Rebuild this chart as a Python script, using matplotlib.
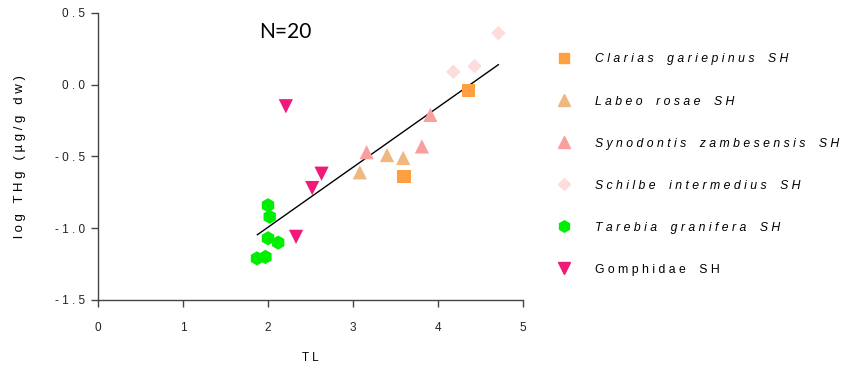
import matplotlib
matplotlib.use('Agg')
import matplotlib.pyplot as plt
from matplotlib.lines import Line2D

# data
clarias_tl = [4.36, 3.60]
clarias_thg = [-0.04, -0.64]
labeo_tl = [3.08, 3.40, 3.59]
labeo_thg = [-0.61, -0.49, -0.51]
syno_tl = [3.16, 3.81, 3.91]
syno_thg = [-0.47, -0.43, -0.21]
schilbe_tl = [4.18, 4.43, 4.71]
schilbe_thg = [0.09, 0.13, 0.36]
tarebia_tl = [2.00, 2.02, 2.00, 2.12, 1.87, 1.97]
tarebia_thg = [-0.84, -0.92, -1.07, -1.10, -1.21, -1.20]
gomph_tl = [2.21, 2.52, 2.63, 2.33]
gomph_thg = [-0.15, -0.72, -0.62, -1.06]

fit_slope = 0.418
fit_intercept = -1.829
fit_range = [1.875, 4.71]

x_ticks = [0, 1, 2, 3, 4, 5]
y_ticks = [-1.5, -1.0, -0.5, 0.0, 0.5]

def spaced(s):
    return ' '.join(s)

series = [
    (clarias_tl, clarias_thg, 's', '#FFA040', 'Clarias gariepinus SH', True, 90),
    (labeo_tl, labeo_thg, '^', '#F0B880', 'Labeo rosae SH', True, 105),
    (syno_tl, syno_thg, '^', '#F8A0A0', 'Synodontis zambesensis SH', True, 105),
    (schilbe_tl, schilbe_thg, 'D', '#FCDCDC', 'Schilbe intermedius SH', True, 55),
    (tarebia_tl, tarebia_thg, 'h', '#00EE00', 'Tarebia granifera SH', True, 105),
    (gomph_tl, gomph_thg, 'v', '#F01878', 'Gomphidae SH', False, 105),
]

fig = plt.figure(figsize=(8.44, 3.69), dpi=100)
ax = fig.add_axes([0.1161, 0.187, 0.5036, 0.7778])

handles = []
for tl, thg, mk, col, name, ital, size in series:
    ax.scatter(tl, thg, marker=mk, s=size, color=col, edgecolors='none', zorder=3)
    handles.append(Line2D([], [], linestyle='none', marker=mk, color=col,
                          markersize=(size ** 0.5) * 0.8, label=name))

fx = fit_range
fy = [fit_slope * v + fit_intercept for v in fx]
ax.plot(fx, fy, color='black', lw=1, zorder=2)

ax.set_xlim(0, 5)
ax.set_ylim(-1.5, 0.5)
ax.set_xticks(x_ticks)
ax.set_xticklabels([spaced(str(v)) for v in x_ticks])
ax.set_yticks(y_ticks)
ax.set_yticklabels([spaced(f'{v:.1f}') for v in y_ticks])
for side in ['top', 'right']:
    ax.spines[side].set_visible(False)
for side in ['left', 'bottom']:
    ax.spines[side].set_color('#444444')
    ax.spines[side].set_linewidth(1)
ax.tick_params(direction='out', length=5, width=1, color='#444444',
               labelsize=8.5, labelcolor='#222222')
ax.tick_params(axis='x', pad=11)
ax.tick_params(axis='y', pad=4)
for lab in ax.get_xticklabels() + ax.get_yticklabels():
    lab.set_fontfamily('Liberation Sans')

ax.set_xlabel(spaced('TL'), fontsize=8.5, family='Liberation Sans', labelpad=13)
ax.set_ylabel(spaced('log THg (µg/g dw)'), fontsize=9.5, family='Liberation Sans', labelpad=21)

ax.text(2.2, 0.37, 'N=20', fontsize=15, family='Lato', ha='center', va='center')

leg = fig.legend(handles=handles, loc='upper left', bbox_to_anchor=(0.641, 0.885),
                 frameon=False, labelspacing=2.46, handletextpad=1.55,
                 prop={'family': 'Liberation Sans', 'size': 8.8})
for t, s in zip(leg.get_texts(), series):
    t.set_text(spaced(s[4]).replace('   ', '    '))
    if s[5]:
        t.set_style('italic')

fig.savefig('out.png', dpi=100)
